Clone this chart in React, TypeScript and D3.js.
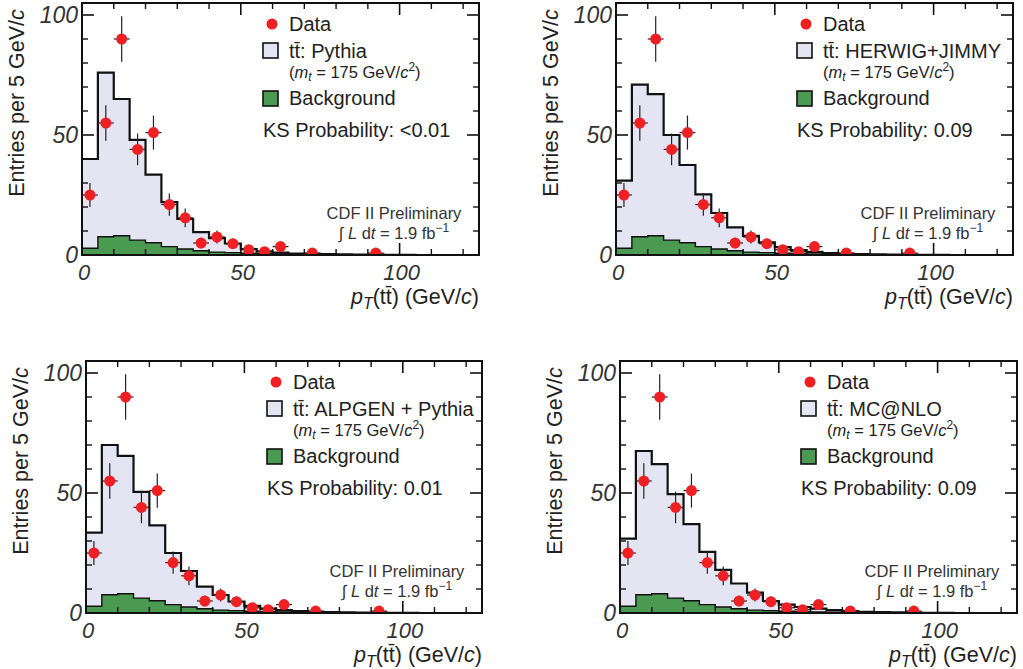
import React from 'react';
import * as d3 from 'd3';

// bin lower edges, 5 GeV/c wide (0..125)
const binStarts = [0, 5, 10, 15, 20, 25, 30, 35, 40, 45, 50, 55, 60, 65, 70, 75, 80, 85, 90, 95, 100, 105, 110, 115, 120];
const xMax = 125;

// data points (bin centres) with errors
const dataX = [2.5, 7.5, 12.5, 17.5, 22.5, 27.5, 32.5, 37.5, 42.5, 47.5, 52.5, 57.5, 62.5, 72.5, 92.5];
const dataY = [25, 55, 90, 44, 51, 21, 15.5, 5, 7.5, 4.7, 2.2, 1.4, 3.5, 0.8, 0.8];
const dataErr = [5, 7.4, 9.5, 6.6, 7.1, 4.6, 3.9, 2.2, 2.7, 2.2, 1.5, 1.2, 1.9, 1, 1];

// background, common to all panels
const background = [2.8, 7.6, 8.0, 6.2, 5.1, 3.5, 2.5, 1.8, 1.2, 1.0, 0.7, 0.5, 0.4, 0.3, 0.25, 0.2, 0.15, 0.1, 0.1, 0.1, 0, 0, 0, 0, 0];

// signal + background totals for each generator
const pythia = [40, 76, 65, 48, 33.5, 22, 15, 9.5, 7, 4.8, 2.5, 1.5, 1.0, 0.6, 0.5, 0.4, 0.3, 0.2, 0.2, 0.1, 0.1, 0, 0, 0, 0];
const herwig = [31, 71, 67, 50, 37.5, 25.3, 17.5, 11.5, 8, 5.3, 3.3, 2, 1.3, 0.8, 0.5, 0.4, 0.3, 0.2, 0.15, 0.1, 0.1, 0, 0, 0, 0];
const alpgen = [33.5, 70, 65.5, 50.5, 36.5, 25, 17.5, 11, 7.5, 4.8, 3, 1.8, 1.2, 0.8, 0.5, 0.4, 0.3, 0.2, 0.15, 0.1, 0.1, 0, 0, 0, 0];
const mcatnlo = [31, 67.5, 62, 49.5, 37, 25.5, 18, 12.3, 8.5, 5, 3.5, 2.5, 1.8, 1.2, 0.8, 0.5, 0.4, 0.3, 0.2, 0.1, 0.1, 0, 0, 0, 0];

const generators = ['Pythia', 'HERWIG+JIMMY', 'ALPGEN + Pythia', 'MC@NLO'];
const ksProb = ['<0.01', '0.09', '0.01', '0.09'];
const totals = [pythia, herwig, alpgen, mcatnlo];

const yMajor = [0, 50, 100];
const yMinor = [10, 20, 30, 40, 60, 70, 80, 90];
const xMajor = [0, 50, 100];
const xMinor = [10, 20, 30, 40, 60, 70, 80, 90, 110, 120];

// panel frames (pixels)
const layout = [
  { left: 82, right: 479, y0: 255 },
  { left: 616, right: 1013, y0: 255 },
  { left: 86, right: 482, y0: 613 },
  { left: 620, right: 1017, y0: 613 },
];

const FONT = '"Liberation Sans", Arial, Helvetica, sans-serif';
const LAV = '#e5e4f3';
const GREEN = '#4a9a52';
const RED = '#ee2024';
const TXT = '#222';

type Bin = { x: number; v: number };

const Panel: React.FC<{ idx: number }> = ({ idx }) => {
  const { left, right, y0 } = layout[idx];
  const top = y0 - 252;
  const x = d3.scaleLinear().domain([0, xMax]).range([left, right]);
  const y = d3.scaleLinear().domain([0, 105]).range([y0, top]);

  const toBins = (vals: number[]): Bin[] => {
    const b = binStarts.map((s, i) => ({ x: s, v: vals[i] }));
    b.push({ x: xMax, v: vals[vals.length - 1] });
    return b;
  };
  const tot = toBins(totals[idx]);
  const bkg = toBins(background);

  const area = d3.area<Bin>().x(d => x(d.x)).y0(y0).y1(d => y(d.v)).curve(d3.curveStepAfter);
  const line = d3.line<Bin>().x(d => x(d.x)).y(d => y(d.v)).curve(d3.curveStepAfter);
  const clipId = `clip${idx}`;

  const lx = left + 181;
  const tx = left + 207;

  return (
    <g fontFamily={FONT}>
      <defs>
        <clipPath id={clipId}>
          <rect x={left} y={top} width={right - left} height={y0 - top} />
        </clipPath>
      </defs>
      <g clipPath={`url(#${clipId})`}>
        <path d={area(tot) || ''} fill={LAV} />
        <path d={area(bkg) || ''} fill={GREEN} />
        <path d={line(bkg) || ''} fill="none" stroke="#111" strokeWidth={1.4} />
        <path d={line(tot) || ''} fill="none" stroke="#111" strokeWidth={2.2} />
        {dataX.map((dx, i) => (
          <g key={i}>
            <line x1={x(dx - 2.5)} x2={x(dx + 2.5)} y1={y(dataY[i])} y2={y(dataY[i])} stroke="#222" strokeWidth={1.2} />
            <line x1={x(dx)} x2={x(dx)} y1={y(dataY[i] - dataErr[i])} y2={y(dataY[i] + dataErr[i])} stroke="#222" strokeWidth={1.2} />
            <circle cx={x(dx)} cy={y(dataY[i])} r={5.5} fill={RED} />
          </g>
        ))}
      </g>

      {/* ticks */}
      {yMajor.map(t => (
        <g key={'ym' + t}>
          <line x1={left} x2={left + 12} y1={y(t)} y2={y(t)} stroke="#111" strokeWidth={1.6} />
          <line x1={right} x2={right - 12} y1={y(t)} y2={y(t)} stroke="#111" strokeWidth={1.6} />
          <text x={left - 4} y={y(t) + 8} textAnchor="end" fontSize={23} fontStyle="italic" fill="#333">{t}</text>
        </g>
      ))}
      {yMinor.map(t => (
        <g key={'yn' + t}>
          <line x1={left} x2={left + 6} y1={y(t)} y2={y(t)} stroke="#111" strokeWidth={1.4} />
          <line x1={right} x2={right - 6} y1={y(t)} y2={y(t)} stroke="#111" strokeWidth={1.4} />
        </g>
      ))}
      {xMajor.map(t => (
        <g key={'xm' + t}>
          <line x1={x(t)} x2={x(t)} y1={y0} y2={y0 - 12} stroke="#111" strokeWidth={1.6} />
          <line x1={x(t)} x2={x(t)} y1={top} y2={top + 12} stroke="#111" strokeWidth={1.6} />
          <text x={x(t) + 2} y={y0 + 25} textAnchor="middle" fontSize={22} fontStyle="italic" fill="#333">{t}</text>
        </g>
      ))}
      {xMinor.map(t => (
        <g key={'xn' + t}>
          <line x1={x(t)} x2={x(t)} y1={y0} y2={y0 - 6} stroke="#111" strokeWidth={1.4} />
          <line x1={x(t)} x2={x(t)} y1={top} y2={top + 6} stroke="#111" strokeWidth={1.4} />
        </g>
      ))}
      <rect x={left} y={top} width={right - left} height={y0 - top} fill="none" stroke="#111" strokeWidth={2} />

      {/* axis titles */}
      <text transform={`translate(${left - 58},${y0 - 152}) rotate(-90)`} textAnchor="middle" fontSize={21.5} fill={TXT}>
        Entries per 5 GeV/<tspan fontStyle="italic">c</tspan>
      </text>
      <text x={right} y={y0 + 49} textAnchor="end" fontSize={21.5} fill={TXT}>
        <tspan fontStyle="italic">p</tspan>
        <tspan fontStyle="italic" fontSize={16} dy={5}>T</tspan>
        <tspan dy={-5}>(tt̄) (GeV/</tspan>
        <tspan fontStyle="italic">c</tspan>
        <tspan>)</tspan>
      </text>

      {/* legend */}
      <circle cx={left + 190} cy={top + 21} r={5.5} fill={RED} />
      <text x={tx} y={top + 28} fontSize={20} fill={TXT}>Data</text>
      <rect x={lx} y={top + 40} width={15} height={15} fill={LAV} stroke="#111" strokeWidth={1.6} />
      <text x={tx} y={top + 55} fontSize={20} fill={TXT}>tt̄: {generators[idx]}</text>
      <text x={tx} y={top + 75} fontSize={16.5} fill={TXT}>
        (<tspan fontStyle="italic">m</tspan>
        <tspan fontStyle="italic" fontSize={12} dy={3}>t</tspan>
        <tspan dy={-3}> = 175 GeV/</tspan>
        <tspan fontStyle="italic">c</tspan>
        <tspan fontSize={12} dy={-7}>2</tspan>
        <tspan dy={7}>)</tspan>
      </text>
      <rect x={lx} y={top + 88} width={15} height={15} fill={GREEN} stroke="#111" strokeWidth={1.6} />
      <text x={tx} y={top + 102} fontSize={20} fill={TXT}>Background</text>
      <text x={lx} y={top + 134} fontSize={20} fill={TXT}>KS Probability: {ksProb[idx]}</text>

      <text x={right - 85} y={y0 - 36} textAnchor="middle" fontSize={16.5} fill="#333">CDF II Preliminary</text>
      <text x={right - 85} y={y0 - 16} textAnchor="middle" fontSize={16.5} fill="#333">
        ∫ <tspan fontStyle="italic">L</tspan> d<tspan fontStyle="italic">t</tspan> = 1.9 fb
        <tspan fontSize={12} dy={-7}>−1</tspan>
      </text>
    </g>
  );
};

export default function App() {
  return (
    <svg width={1023} height={669} style={{ position: 'absolute', left: 0, top: 0, background: '#fff' }}>
      {layout.map((_, i) => (
        <Panel key={i} idx={i} />
      ))}
    </svg>
  );
}
